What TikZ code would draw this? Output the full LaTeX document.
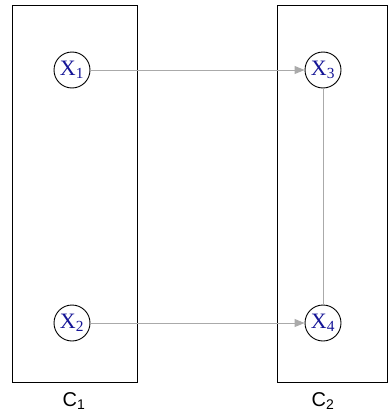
\documentclass[tikz,border=0pt]{standalone}
\usepackage{fontspec}
\setmainfont{Liberation Serif}
\setsansfont{Liberation Sans}
\usetikzlibrary{arrows.meta}
\definecolor{varblue}{RGB}{20,20,150}
\definecolor{edgegray}{RGB}{170,170,170}
\begin{document}
\begin{tikzpicture}[x=1pt,y=-1pt,
  box/.style={draw=black,line width=1pt},
  var/.style={circle,draw=black,line width=0.9pt,minimum size=36pt,inner sep=0pt,
    font=\fontsize{22}{22}\selectfont,text=varblue},
  lbl/.style={font=\sffamily\fontsize{20}{20}\selectfont},
  edge/.style={draw=edgegray,line width=1pt},
  arr/.style={edge,-{Triangle[length=10pt,width=8pt]}}]
\useasboundingbox (0,0) rectangle (388,415);
\draw[box] (12.5,5.5) rectangle (137.5,382.5);
\draw[box] (277.5,5.5) rectangle (387.5,382.5);
\node[var] (x1) at (72,70) {X\textsubscript{1}};
\node[var] (x2) at (72,323) {X\textsubscript{2}};
\node[var] (x3) at (323,70) {X\textsubscript{3}};
\node[var] (x4) at (323,323) {X\textsubscript{4}};
\node[lbl] (c1) at (74,401) {C\textsubscript{1}};
\node[lbl] (c2) at (323,401) {C\textsubscript{2}};
\draw[arr] (x1) -- (x3);
\draw[arr] (x2) -- (x4);
\draw[edge] (x3) -- (x4);
\end{tikzpicture}
\end{document}
